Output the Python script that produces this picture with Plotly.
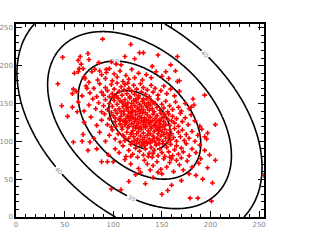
import numpy as np
import plotly.graph_objects as go

# Scatter samples (x, y)
points = [
    # low outskirts
    (179,25),(187,25),(201,21),(150,30),(156,35),(98,37),(108,36),(202,45),(255,55),(205,75),(197,65),
    # right outskirts
    (205,122),(197,111),(194,106),(194,161),(182,156),(180,145),
    # top outskirts
    (146,214),(166,212),(159,201),(164,193),(154,192),(168,180),(166,179),(89,235),(118,228),(127,217),
    (131,217),(122,209),(103,202),(108,201),(93,195),(93,191),
    # upper-left outskirts
    (74,216),(66,212),(48,211),(75,208),(64,207),(67,202),(65,196),(69,196),(64,192),(60,190),(81,195),
    (86,193),(71,183),(75,178),(73,170),(59,169),(58,163),(43,176),(47,147),(63,139),
    # lower-left outskirts
    (53,133),(59,99),(69,109),(68,100),(76,99),(83,90),(88,73),(74,88),(94,73),(100,73),
    # y 38-58
    (141,52),(170,48),(123,56),(185,55),(160,42),(133,44),(178,57),(150,57),(116,47),(192,50),
    # y 58-78
    (118,70),(126,64),(132,75),(138,62),(141,68),(145,73),(149,63),(152,77),(155,66),(158,72),(162,60),
    (165,75),(168,69),(172,62),(176,74),(181,66),(188,71),(128,59),(146,59),(160,77),(135,70),(190,77),
    (112,76),(170,78),
    # y 78-98
    (95,82),(102,90),(106,85),(110,94),(113,80),(116,88),(118,96),(120,83),(123,91),(125,79),(127,87),
    (129,95),(131,82),(133,90),(135,97),(137,84),(139,92),(140,79),(142,88),(144,95),(146,81),(148,90),
    (150,85),(151,97),(153,80),(155,92),(157,86),(159,96),(161,81),(163,89),(165,94),(167,83),(170,91),
    (172,86),(175,97),(178,81),(181,90),(185,85),(189,95),(194,88),(199,82),(147,97),(136,80),(124,97),
    (158,79),(141,84),(132,94),(118,80),
    # y 98-118
    (80,104),(86,112),(92,100),(96,108),(99,115),(102,103),(105,110),(107,99),(109,116),(111,106),(112,101),
    (114,112),(115,118),(116,104),(118,109),(119,99),(120,114),(121,106),(122,101),(123,117),(124,110),
    (125,103),(126,113),(127,99),(128,107),(129,116),(130,102),(131,111),(132,105),(133,118),(134,100),
    (135,108),(136,114),(137,103),(138,110),(139,117),(140,101),(141,107),(142,113),(143,99),(144,116),
    (145,104),(146,110),(147,102),(148,118),(149,107),(150,113),(151,100),(152,109),(153,116),(154,104),
    (155,111),(156,99),(157,107),(158,115),(159,102),(160,110),(162,105),(163,117),(165,100),(167,112),
    (169,106),(171,115),(173,101),(175,109),(178,104),(181,113),(184,100),(187,108),(191,116),(196,103),
    (126,118),(131,98),(142,104),(119,111),(147,114),(138,98),(110,108),
    # y 118-138
    (70,125),(77,132),(83,121),(88,128),(91,136),(94,122),(96,130),(98,119),(100,134),(102,126),(103,120),
    (104,137),(106,129),(107,123),(108,133),(109,119),(110,127),(111,136),(112,122),(113,130),(114,125),
    (115,134),(116,120),(117,128),(118,137),(119,123),(120,131),(121,119),(122,126),(123,135),(124,121),
    (125,129),(126,124),(127,133),(128,119),(129,127),(130,137),(131,122),(132,131),(133,125),(134,120),
    (135,135),(136,128),(137,123),(138,132),(139,119),(140,127),(141,136),(142,121),(143,130),(144,125),
    (145,134),(146,119),(147,128),(148,123),(149,137),(150,131),(151,120),(152,126),(153,133),(154,122),
    (156,129),(157,136),(158,121),(160,127),(161,133),(163,124),(165,130),(167,120),(169,137),(171,126),
    (174,131),(177,122),(180,135),(184,127),(189,120),(127,137),(119,133),(134,128),(112,126),(143,121),
    (129,131),(107,128),(152,136),(138,125),(123,129),(116,132),(148,127),(131,126),(102,131),
    # y 138-158
    (58,145),(64,152),(70,140),(75,148),(79,156),(82,143),(85,151),(88,139),(90,147),(92,155),(94,142),
    (96,150),(98,138),(99,146),(101,154),(102,141),(104,149),(105,157),(106,143),(108,139),(109,152),
    (110,146),(111,140),(112,155),(113,148),(114,143),(115,151),(116,139),(117,157),(118,145),(119,150),
    (120,141),(121,154),(122,147),(123,139),(124,152),(125,144),(126,157),(127,149),(128,140),(129,146),
    (130,153),(131,142),(132,150),(133,138),(134,156),(135,145),(136,151),(137,141),(138,148),(139,154),
    (140,143),(142,139),(143,150),(145,145),(146,156),(148,141),(150,149),(152,144),(154,153),(156,139),
    (158,147),(161,142),(164,152),(167,145),(170,140),(174,150),(178,143),(183,148),(111,149),(119,138),
    (126,142),(134,147),(107,153),(131,156),(141,151),(115,145),(123,155),
    # y 158-178
    (62,166),(68,160),(72,173),(76,164),(80,170),(83,159),(86,176),(88,165),(90,161),(92,171),(94,167),
    (96,159),(98,175),(99,163),(101,169),(103,160),(104,177),(106,166),(108,172),(109,161),(111,168),
    (112,175),(114,163),(116,170),(117,159),(119,166),(121,174),(122,162),(124,169),(126,160),(128,176),
    (129,165),(131,171),(133,162),(135,168),(137,159),(139,174),(141,165),(143,170),(146,161),(149,167),
    (152,173),(155,163),(159,169),(163,160),(168,166),(100,158),(115,177),
    # y 178-198
    (70,185),(78,192),(84,181),(88,188),(92,183),(96,196),(99,180),(101,189),(104,185),(107,193),(110,179),
    (113,187),(116,182),(119,195),(122,184),(126,190),(130,181),(134,188),(139,184),(144,192),(150,186),
    (157,183),
    # y 198-218
    (98,205),(112,212),(85,204),(140,199),
]
x_values = [p[0] for p in points]
y_values = [p[1] for p in points]

# Contour surface parameters (bivariate normal, labelled in units of 10 per sigma)
center_x, center_y = 127.0, 128.0
sigma_x, sigma_y = 31.5, 39.0
rho = -0.4
contour_levels = [10, 20, 30, 40]

gx = np.linspace(0, 255, 256)
gy = np.linspace(0, 255, 256)
GX, GY = np.meshgrid(gx, gy)
u = (GX - center_x) / sigma_x
v = (GY - center_y) / sigma_y
Z = 10 * np.sqrt((u**2 - 2 * rho * u * v + v**2) / (1 - rho**2))

fig = go.Figure()
fig.add_trace(go.Scatter(
    x=x_values, y=y_values, mode="markers",
    marker=dict(symbol="cross", size=4, color="#ff0000", line=dict(width=0)),
    showlegend=False,
))
fig.add_trace(go.Contour(
    x=gx, y=gy, z=Z,
    contours=dict(start=contour_levels[0], end=contour_levels[-1], size=10,
                  coloring="lines", showlabels=True,
                  labelfont=dict(size=6, color="#888888", family="DejaVu Sans")),
    colorscale=[[0, "black"], [1, "black"]],
    line=dict(width=1.6, color="black"),
    showscale=False, hoverinfo="skip",
))

axis_common = dict(
    range=[0, 255], showgrid=False, zeroline=False, automargin=False,
    showline=True, linecolor="black", linewidth=1.5, mirror="ticks",
    ticks="inside", ticklen=6, tickcolor="black", tickwidth=1,
    dtick=50, tick0=0,
    minor=dict(ticks="inside", ticklen=3, dtick=10, tickcolor="black", tickwidth=1),
    tickfont=dict(size=7, color="#888888", family="DejaVu Sans"),
)
fig.update_xaxes(**axis_common)
fig.update_yaxes(**axis_common)

fig.update_layout(
    width=311, height=249,
    margin=dict(l=16, r=47, t=24, b=32),
    plot_bgcolor="white", paper_bgcolor="white",
    showlegend=False,
)
fig.write_html("out.html", config={"displayModeBar": False},
               post_script="document.body.style.margin='0';")
